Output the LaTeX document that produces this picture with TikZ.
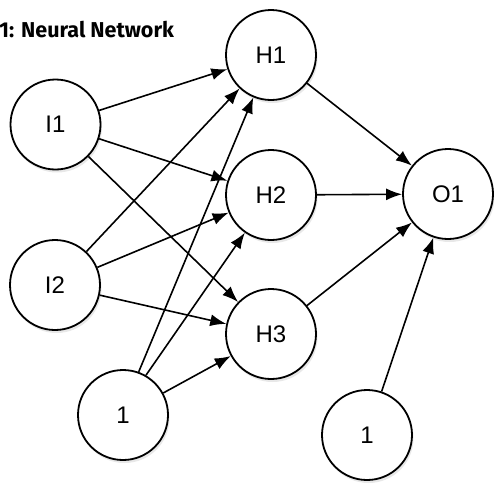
\documentclass[tikz,border=0pt]{standalone}
\usepackage{fontspec}
\setmainfont{Liberation Sans}
\newfontfamily\titlefont{Fira Sans}
\usetikzlibrary{arrows.meta,shadows}
\begin{document}
\begin{tikzpicture}[x=1pt,y=-1pt,
  neuron/.style={circle,draw=black,line width=1.8pt,fill=white,minimum size=90pt,inner sep=0pt,
    font=\fontsize{24}{24}\selectfont,
    drop shadow={opacity=0.18,shadow xshift=1.5pt,shadow yshift=-3pt}},
  conn/.style={line width=1.6pt,-{Latex[length=16pt,width=12pt]}}]
\useasboundingbox (0,0) rectangle (494,485);
\node[anchor=base west,inner sep=0pt,font=\titlefont\bfseries\fontsize{21.5}{21.5}\selectfont] (title) at (-1,37) {1: Neural Network};
\node[neuron] (I1) at (55.5,124.5) {I1};
\node[neuron] (I2) at (55,285) {I2};
\node[neuron] (B1) at (123,415) {1};
\node[neuron] (H1) at (271,55) {H1};
\node[neuron] (H2) at (271,195) {H2};
\node[neuron] (H3) at (271,334) {H3};
\node[neuron] (O1) at (448,194) {O1};
\node[neuron] (B2) at (367,435) {1};
\foreach \s in {I1,I2}{
  \foreach \t in {H1,H2,H3}{
    \draw[conn] (\s) -- (\t);
  }
}
\draw[conn] (B1.70) -- (H1);
\draw[conn] (B1.60) -- (H2);
\draw[conn] (B1) -- (H3);
\foreach \s in {H1,H2,H3,B2}{
  \draw[conn] (\s) -- (O1);
}
\end{tikzpicture}
\end{document}
